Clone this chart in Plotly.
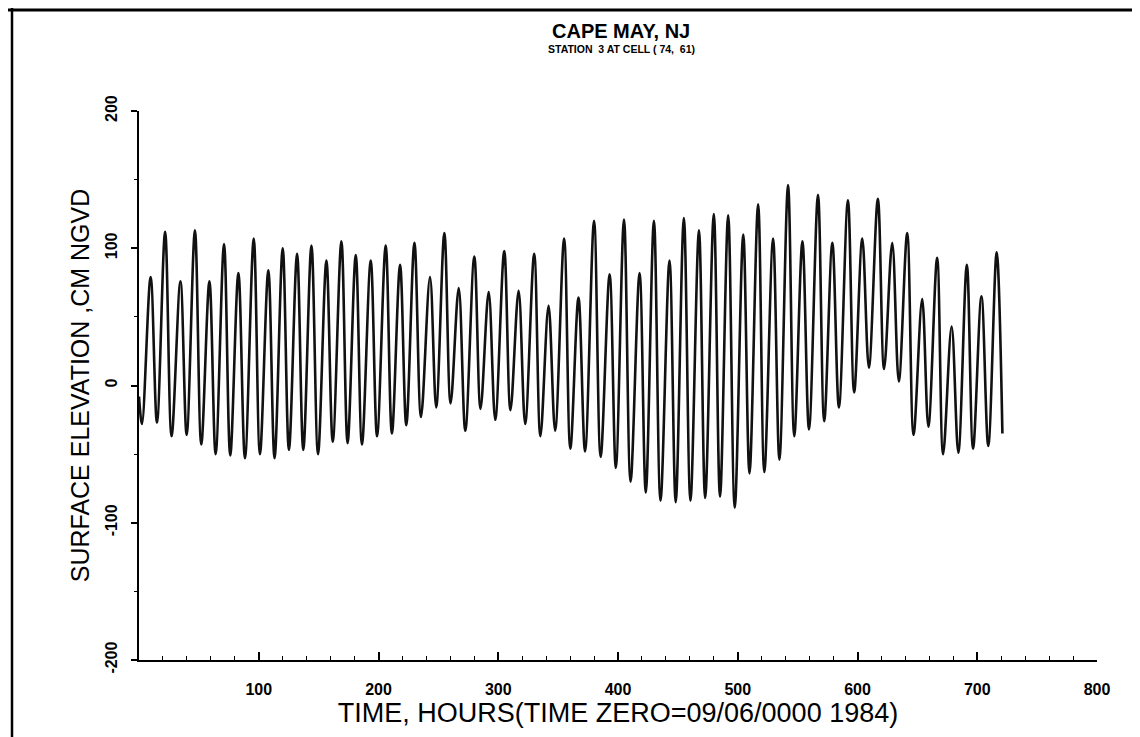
import plotly.graph_objects as go

# ---- data (hours, cm NGVD) ----
start_time = [0.0]
start_level = [-8]

high_times = [9.7, 21.8, 34.6, 46.7, 58.8, 71.0, 83.0, 95.8, 108.0, 120.0,
              132.0, 144.0, 156.5, 169.0, 181.0, 193.5, 206.0, 218.0, 230.0, 243.0,
              255.0, 267.0, 280.0, 292.0, 305.0, 317.0, 330.0, 342.0, 355.0, 367.0,
              380.0, 393.0, 405.0, 418.0, 430.0, 443.0, 455.0, 467.6, 480.0, 492.0,
              504.6, 517.0, 529.5, 542.0, 554.0, 567.0, 579.0, 592.0, 604.0, 617.0,
              629.0, 641.5, 654.0, 666.5, 678.6, 691.3, 703.5, 716.2]
high_levels = [79, 112, 76, 113, 76, 103, 82, 107, 84, 100,
               96, 102, 91, 105, 95, 91, 102, 88, 104, 79,
               111, 71, 94, 68, 98, 69, 96, 58, 107, 64,
               120, 81, 121, 82, 120, 91, 122, 113, 125, 124,
               110, 132, 107, 146, 105, 139, 104, 135, 107, 136,
               104, 111, 63, 93, 43, 88, 65, 97]

low_times = [2.5, 15.0, 27.2, 39.8, 52.0, 64.0, 76.2, 88.5, 101.0, 113.2,
             125.2, 137.2, 149.5, 161.8, 174.2, 186.2, 198.8, 211.2, 223.2, 235.5,
             248.2, 260.2, 272.5, 285.2, 297.5, 310.2, 322.5, 335.2, 347.5, 360.2,
             372.5, 385.5, 398.2, 410.5, 423.2, 435.5, 448.2, 460.5, 472.8, 485.2,
             497.5, 509.8, 522.2, 534.8, 547.2, 559.5, 572.2, 584.5, 597.2, 609.5,
             622.2, 634.5, 646.8, 659.2, 671.5, 684.2, 696.5, 709.2]
low_levels = [-28, -27, -37, -36, -43, -50, -51, -53, -50, -53,
              -47, -47, -50, -41, -42, -43, -37, -35, -29, -23,
              -16, -13, -33, -17, -25, -18, -28, -37, -33, -46,
              -48, -52, -60, -70, -78, -84, -85, -84, -82, -81,
              -89, -64, -63, -54, -37, -32, -26, -16, -5, 13,
              12, 3, -36, -30, -50, -49, -46, -44]

end_time = [721.0]
end_level = [-35]

x_ticks = [0, 100, 200, 300, 400, 500, 600, 700, 800]
x_tick_text = ["", "100", "200", "300", "400", "500", "600", "700", "800"]
y_ticks = [-200, -100, 0, 100, 200]
y_tick_text = ["-200", "-100", "0", "100", "200"]

# ---- build the alternating low/high sequence ----
times = list(start_time)
levels = list(start_level)
for lt, lv, ht, hv in zip(low_times, low_levels, high_times, high_levels):
    times += [lt, ht]
    levels += [lv, hv]
times += end_time
levels += end_level

# ---- layout geometry (pixels) ----
W, H = 1140, 737
L, R, T, B = 131, 1089, 103, 652
pw, ph = R - L, B - T

def px(x):
    return (x - L) / pw

def py(y):
    return (B - y) / ph

fig = go.Figure()
fig.add_trace(go.Scatter(
    x=times, y=levels, mode="lines",
    line=dict(color="#111111", width=2.6, shape="spline", smoothing=1.0),
    hoverinfo="skip", showlegend=False,
))

FONT = "Liberation Sans, Arial, sans-serif"

fig.update_layout(
    width=W, height=H,
    margin=dict(l=L, r=W - R, t=T, b=H - B, autoexpand=False),
    paper_bgcolor="white", plot_bgcolor="white",
    showlegend=False,
)

fig.update_xaxes(
    range=[0, 800], tickvals=x_ticks, ticktext=x_tick_text,
    ticks="inside", ticklen=8, tickwidth=1.5, tickcolor="black",
    minor=dict(dtick=20, ticks="inside", ticklen=4, tickwidth=1.2, tickcolor="black"),
    showline=True, linecolor="black", linewidth=2, mirror=False,
    showgrid=False, zeroline=False, ticklabelstandoff=14,
    tickfont=dict(family=FONT, size=16, color="black", weight="bold"),
    title=dict(text="TIME, HOURS(TIME ZERO=09/06/0000 1984)",
               font=dict(family=FONT, size=27, color="black"), standoff=4),
)
fig.update_yaxes(
    range=[-200, 200], tickvals=y_ticks, ticktext=y_tick_text,
    ticks="outside", ticklen=6, tickwidth=1.5, tickcolor="black",
    minor=dict(dtick=50, ticks="outside", ticklen=3, tickwidth=1.2, tickcolor="black"),
    showline=True, linecolor="black", linewidth=2, mirror=False,
    showgrid=False, zeroline=False, tickangle=-90, ticklabelstandoff=8,
    tickfont=dict(family=FONT, size=16, color="black", weight="bold"),
    title=dict(text="SURFACE ELEVATION ,CM NGVD",
               font=dict(family=FONT, size=25, color="black"), standoff=6),
)

# title and subtitle
fig.add_annotation(text="<b>CAPE MAY, NJ</b>", xref="paper", yref="paper",
                   x=px(613), y=py(23), xanchor="center", yanchor="middle",
                   showarrow=False, font=dict(family=FONT, size=20, color="black"))
fig.add_annotation(text="STATION  3 AT CELL ( 74,  61)", xref="paper", yref="paper",
                   x=px(613), y=py(41), xanchor="center", yanchor="middle",
                   showarrow=False,
                   font=dict(family=FONT, size=10.5, color="black", weight="bold"))

# scanned page frame
fig.add_shape(type="line", xref="paper", yref="paper",
              x0=px(0), x1=px(W), y0=py(2), y1=py(2),
              line=dict(color="black", width=3))
fig.add_shape(type="line", xref="paper", yref="paper",
              x0=px(4), x1=px(4), y0=py(0), y1=py(H),
              line=dict(color="black", width=2.5))
fig.add_shape(type="line", xref="paper", yref="paper",
              x0=px(1134), x1=px(1134), y0=py(0), y1=py(H),
              line=dict(color="black", width=2))

fig.write_html("out.html")
